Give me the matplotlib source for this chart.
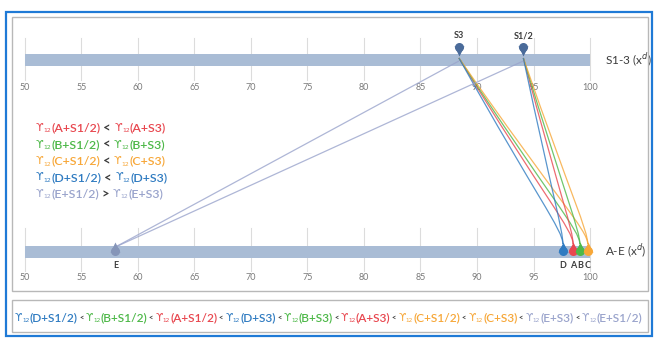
import matplotlib
matplotlib.use("Agg")
import matplotlib.pyplot as plt
import matplotlib.patches as mpatches
import matplotlib.transforms as mtransforms
from matplotlib.path import Path

plt.rcParams['font.family'] = ['Lato', 'DejaVu Sans']
plt.rcParams['mathtext.fontset'] = 'dejavusans'

# axis ticks (same on both scales)
ticks = [50, 55, 60, 65, 70, 75, 80, 85, 90, 95, 100]

# top scale S1-3
top_names = ['S3', 'S1/2']
top_pos = [88.4, 94.1]

# bottom scale A-E
bot_names = ['A', 'B', 'C', 'D', 'E']
bot_pos = [98.5, 99.1, 99.8, 97.6, 58.0]
bot_colors = ['#e8474f', '#4db848', '#f7a738', '#2f7bc1', '#9aa4cc']

# comparison legend
legend_left = ['(A+S1/2)', '(B+S1/2)', '(C+S1/2)', '(D+S1/2)', '(E+S1/2)']
legend_sign = ['<', '<', '<', '<', '>']
legend_right = ['(A+S3)', '(B+S3)', '(C+S3)', '(D+S3)', '(E+S3)']

# ranking shown in the bottom box
order_terms = ['(D+S1/2)', '(B+S1/2)', '(A+S1/2)', '(D+S3)', '(B+S3)',
               '(A+S3)', '(C+S1/2)', '(C+S3)', '(E+S3)', '(E+S1/2)']
order_colors = ['#2f7bc1', '#4db848', '#e8474f', '#2f7bc1', '#4db848',
                '#e8474f', '#f7a738', '#f7a738', '#9aa4cc', '#9aa4cc']

DARK = '#3c3c3c'
BAR = '#a9bcd5'

W, H = 658, 338
fig = plt.figure(figsize=(W / 100, H / 100), dpi=100)
# x: data units (50 at px 25, 100 at px 590); y: pixels from top
ppu = (590 - 25) / 50.0
ax = fig.add_axes([0, 0, 1, 1])
ax.set_xlim(50 - 25 / ppu, 50 + (W - 25) / ppu)
ax.set_ylim(H, 0)
ax.axis('off')

ident = mtransforms.IdentityTransform()
px_y = mtransforms.blended_transform_factory(ident, ax.transData)

# frames
fig.patches.append(mpatches.Rectangle((6, 2), 646, 324, transform=ident,
                                      fill=False, ec='#1f7ad6', lw=1.6))
fig.patches.append(mpatches.Rectangle((12, 47), 636, 274, transform=ident,
                                      fill=False, ec='#b8b8b8', lw=1.0))
fig.patches.append(mpatches.Rectangle((12, 6), 636, 32, transform=ident,
                                      fill=False, ec='#b8b8b8', lw=1.0))

# scales
for ybar, ytick, g0, g1 in [(59.5, 87, 38, 80), (252, 277, 228, 271)]:
    for t in ticks:
        ax.plot([t, t], [g0, g1], color='#dcdcdc', lw=0.8, zorder=1)
        ax.text(t, ytick, str(t), ha='center', va='center', fontsize=6.5,
                color='#7a7a7a', zorder=2,
                bbox=dict(fc='white', ec='none', pad=0.5))
    ax.add_patch(mpatches.Rectangle((50, ybar - 6), 50, 12, fc=BAR, ec='none',
                                    zorder=2))

ax.text(605, 60, 'S1-3 (x$^{d}$)', transform=px_y,
        ha='left', va='center', fontsize=8.5, color=DARK)
ax.text(605, 251, 'A-E (x$^{d}$)', transform=px_y,
        ha='left', va='center', fontsize=8.5, color=DARK)

# connecting curves
y_top, y_bot = 58, 244
for xs in top_pos:
    for xe, c in zip(bot_pos, bot_colors):
        if xe < 80:
            verts = [(xs, y_top + 3), (xe, y_bot + 3)]
            codes = [Path.MOVETO, Path.LINETO]
        else:
            verts = [(xs, y_top), (xs + 0.75 * (xe - xs), y_top + 0.75 * (y_bot - y_top)),
                     (xe, y_bot - 14), (xe, y_bot)]
            codes = [Path.MOVETO, Path.CURVE4, Path.CURVE4, Path.CURVE4]
        ax.add_patch(mpatches.PathPatch(Path(verts, codes), fill=False, ec=c,
                                        lw=0.9, alpha=0.8, zorder=3))

# top markers
for name, xp in zip(top_names, top_pos):
    ax.plot(xp, 47, 'o', ms=6.5, color='#4a6b9a', mec='none', zorder=5)
    ax.plot(xp, 51, 'v', ms=6.5, color='#4a6b9a', mec='none', zorder=5)
    ax.text(xp, 36, name, ha='center', va='center', fontsize=6.5,
            color=DARK, fontweight='bold')

# bottom markers
for name, xp, c in zip(bot_names, bot_pos, bot_colors):
    mc = '#8595b8' if name == 'E' else c
    ax.plot(xp, 247, '^', ms=6.5, color=mc, mec='none', zorder=5)
    ax.plot(xp, 251, 'o', ms=6.5, color=mc, mec='none', zorder=5)
    ax.text(xp, 265, name, ha='center', va='center', fontsize=6.5,
            color=DARK, fontweight='bold')

fig.canvas.draw()
renderer = fig.canvas.get_renderer()


def put_pieces(x, y, pieces):
    for s, c, size, wgt, dy, fam in pieces:
        t = fig.text(x, H - y - dy, s, transform=ident, ha='left', va='center',
                     fontsize=size, color=c, fontweight=wgt, family=fam)
        x += t.get_window_extent(renderer).width


def gamma(term, c, size):
    return [('ϒ', c, size * 0.9, 'normal', 0, ['DejaVu Sans']),
            ('12', c, size * 0.5, 'normal', 3, ['DejaVu Sans']),
            (term, c, size, 'semibold', 0, ['Lato', 'DejaVu Sans'])]


# left legend
for i in range(5):
    c = bot_colors[i]
    put_pieces(36, 128 + i * 16.5,
               gamma(legend_left[i], c, 8.9)
               + [(' ' + legend_sign[i] + ' ', DARK, 9.2, 'bold', 0, ['Lato'])]
               + gamma(legend_right[i], c, 8.9))

# bottom ranking
pieces = []
for k, (term, c) in enumerate(zip(order_terms, order_colors)):
    if k > 0:
        pieces.append((' < ', DARK, 5.5, 'bold', 0, ['Lato']))
    pieces += gamma(term, c, 8.55)
put_pieces(15, 318, pieces)

fig.savefig('out.png', dpi=100)
